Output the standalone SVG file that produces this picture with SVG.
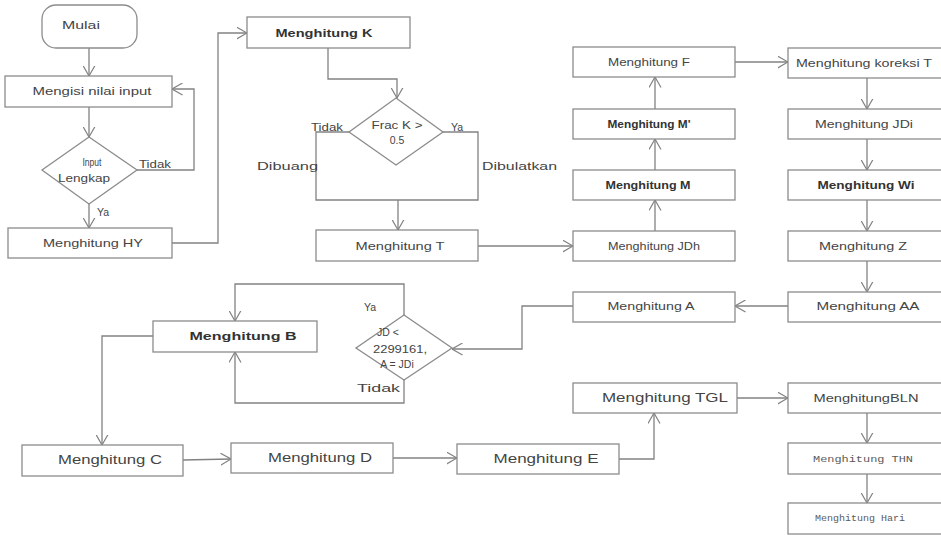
<svg xmlns="http://www.w3.org/2000/svg" width="941" height="535" viewBox="0 0 941 535">
  <style>
    .box { fill: #fff; stroke: #8c8c8c; stroke-width: 1.3; }
    .line { fill: none; stroke: #828282; stroke-width: 1.3; }
    .arrow { marker-end: url(#open); }
    text { font-family: "Liberation Sans", Arial, sans-serif; fill: #444; font-size: 10.5px; }
    .c { text-anchor: middle; }
    .b { font-weight: bold; fill: #333; }
    .big { font-size: 12.5px; }
    .mono { font-family: "Liberation Mono", "DejaVu Sans Mono", monospace; font-size: 9.5px; fill: #5a5a5a; }
  </style>
  <defs>
    <!-- open V arrowhead used by every connector -->
    <marker id="open" viewBox="0 0 11 13" refX="10.5" refY="6.5" markerWidth="11" markerHeight="13" markerUnits="userSpaceOnUse" orient="auto">
      <path d="M0,0.5 L10.5,6.5 L0,12.5" fill="none" stroke="#828282" stroke-width="1.2"/>
    </marker>
  </defs>
  <rect width="941" height="535" fill="#fff"/>

  <!-- connectors -->
  <g id="connectors">
    <polyline class="line arrow" points="89,48 89,76"/>
    <polyline class="line arrow" points="89,107 89,137"/>
    <polyline class="line arrow" points="137,170 194,170 194,89 172,89"/>
    <polyline class="line arrow" points="89,204 89,228"/>
    <polyline class="line arrow" points="172,243 218,243 218,33 247,33"/>
    <polyline class="line arrow" points="328,48 328,79 397,79 397,98"/>
    <polyline class="line" points="349,132 316,132 316,200 478,200 478,132 443,132"/>
    <polyline class="line arrow" points="398,200 398,230"/>
    <polyline class="line arrow" points="478,246 573,246"/>
    <polyline class="line arrow" points="655,231 655,200"/>
    <polyline class="line arrow" points="655,170 655,139"/>
    <polyline class="line arrow" points="655,109 655,77"/>
    <polyline class="line arrow" points="735,62 788,62"/>
    <polyline class="line arrow" points="867,78 867,109"/>
    <polyline class="line arrow" points="867,139 867,170"/>
    <polyline class="line arrow" points="867,200 867,231"/>
    <polyline class="line arrow" points="867,261 867,292"/>
    <polyline class="line arrow" points="788,306 735,306"/>
    <polyline class="line arrow" points="573,306 522,306 522,349 452,349"/>
    <polyline class="line arrow" points="404,315 404,284 235,284 235,321"/>
    <polyline class="line arrow" points="404,380 404,403 235,403 235,352"/>
    <polyline class="line arrow" points="153,336 102,336 102,445"/>
    <polyline class="line arrow" points="183,460 231,459"/>
    <polyline class="line arrow" points="393,458 457,458"/>
    <polyline class="line arrow" points="619,459 654,459 654,413"/>
    <polyline class="line arrow" points="737,398 788,398"/>
    <polyline class="line arrow" points="867,413 867,443"/>
    <polyline class="line arrow" points="867,474 867,503"/>
  </g>

  <!-- branch labels -->
  <g id="labels">
    <text x="139" y="168" textLength="32" lengthAdjust="spacingAndGlyphs">Tidak</text>
    <text x="97" y="216" font-size="12">Ya</text>
    <text x="311" y="131" textLength="32" lengthAdjust="spacingAndGlyphs">Tidak</text>
    <text x="451" y="131" font-size="12">Ya</text>
    <text x="257" y="170" font-size="12" textLength="61" lengthAdjust="spacingAndGlyphs">Dibuang</text>
    <text x="482" y="170" font-size="12" textLength="75" lengthAdjust="spacingAndGlyphs">Dibulatkan</text>
    <text x="364" y="311" font-size="12">Ya</text>
    <text x="357" y="392" font-size="12" textLength="43" lengthAdjust="spacingAndGlyphs">Tidak</text>
  </g>

  <!-- nodes -->
  <g id="mulai">
    <rect class="box" x="42" y="5" width="95" height="43" rx="14"/>
    <text x="81" y="29" class="c" font-size="12" textLength="38" lengthAdjust="spacingAndGlyphs">Mulai</text>
  </g>
  <g id="mengisi-input">
    <rect class="box" x="5" y="76" width="167" height="31"/>
    <text x="92" y="95" class="c" textLength="119" lengthAdjust="spacingAndGlyphs">Mengisi nilai input</text>
  </g>
  <g id="input-lengkap">
    <polygon class="box" points="89,137 137,170 89,204 42,170"/>
    <text x="92" y="166" class="c" font-size="10" textLength="19" lengthAdjust="spacingAndGlyphs">Input</text>
    <text x="84" y="182" class="c" textLength="52" lengthAdjust="spacingAndGlyphs">Lengkap</text>
  </g>
  <g id="hitung-hy">
    <rect class="box" x="8" y="228" width="164" height="30"/>
    <text x="93" y="247" class="c" textLength="100" lengthAdjust="spacingAndGlyphs">Menghitung HY</text>
  </g>
  <g id="hitung-k">
    <rect class="box" x="247" y="17" width="163" height="31"/>
    <text x="324" y="37" class="c b" font-size="11.5" textLength="97" lengthAdjust="spacingAndGlyphs">Menghitung  K</text>
  </g>
  <g id="frac-k">
    <polygon class="box" points="396,98 443,132 396,165 349,132"/>
    <text x="397" y="129" class="c" textLength="51" lengthAdjust="spacingAndGlyphs">Frac K &gt;</text>
    <text x="397" y="144" class="c">0.5</text>
  </g>
  <g id="hitung-t">
    <rect class="box" x="316" y="230" width="162" height="31"/>
    <text x="400" y="250" class="c" textLength="89" lengthAdjust="spacingAndGlyphs">Menghitung T</text>
  </g>
  <g id="hitung-f">
    <rect class="box" x="573" y="47" width="162" height="30"/>
    <text x="649" y="66" class="c" textLength="82" lengthAdjust="spacingAndGlyphs">Menghitung F</text>
  </g>
  <g id="hitung-m-aksen">
    <rect class="box" x="573" y="109" width="162" height="30"/>
    <text x="649" y="128" class="c b" textLength="83" lengthAdjust="spacingAndGlyphs">Menghitung  M'</text>
  </g>
  <g id="hitung-m">
    <rect class="box" x="573" y="170" width="162" height="30"/>
    <text x="648" y="189" class="c b" textLength="85" lengthAdjust="spacingAndGlyphs">Menghitung M</text>
  </g>
  <g id="hitung-jdh">
    <rect class="box" x="573" y="231" width="162" height="30"/>
    <text x="654" y="250" class="c" textLength="92" lengthAdjust="spacingAndGlyphs">Menghitung JDh</text>
  </g>
  <g id="hitung-a">
    <rect class="box" x="573" y="292" width="162" height="30"/>
    <text x="651" y="310" class="c" textLength="87" lengthAdjust="spacingAndGlyphs">Menghitung A</text>
  </g>
  <g id="hitung-koreksi-t">
    <rect class="box" x="788" y="48" width="160" height="30"/>
    <text x="864" y="67" class="c" textLength="136" lengthAdjust="spacingAndGlyphs">Menghitung koreksi T</text>
  </g>
  <g id="hitung-jdi">
    <rect class="box" x="788" y="109" width="160" height="30"/>
    <text x="864" y="128" class="c" textLength="98" lengthAdjust="spacingAndGlyphs">Menghitung JDi</text>
  </g>
  <g id="hitung-wi">
    <rect class="box" x="788" y="170" width="160" height="30"/>
    <text x="866" y="189" class="c b" textLength="97" lengthAdjust="spacingAndGlyphs">Menghitung Wi</text>
  </g>
  <g id="hitung-z">
    <rect class="box" x="788" y="231" width="160" height="30"/>
    <text x="863" y="250" class="c" textLength="88" lengthAdjust="spacingAndGlyphs">Menghitung Z</text>
  </g>
  <g id="hitung-aa">
    <rect class="box" x="788" y="292" width="160" height="30"/>
    <text x="868" y="310" class="c" textLength="103" lengthAdjust="spacingAndGlyphs">Menghitung AA</text>
  </g>
  <g id="jd-check">
    <polygon class="box" points="404,315 452,348 404,380 356,348"/>
    <text x="388" y="336" class="c" font-size="10">JD &lt;</text>
    <text x="400" y="353" class="c" font-size="10.5" textLength="54" lengthAdjust="spacingAndGlyphs">2299161,</text>
    <text x="397" y="368" class="c" font-size="10">A = JDi</text>
  </g>
  <g id="hitung-b">
    <rect class="box" x="153" y="321" width="164" height="31"/>
    <text x="243" y="340" class="c b" font-size="11" textLength="107" lengthAdjust="spacingAndGlyphs">Menghitung B</text>
  </g>
  <g id="hitung-c">
    <rect class="box" x="22" y="445" width="161" height="31"/>
    <text x="110" y="464" class="c big" textLength="104" lengthAdjust="spacingAndGlyphs">Menghitung C</text>
  </g>
  <g id="hitung-d">
    <rect class="box" x="231" y="443" width="162" height="30"/>
    <text x="320" y="462" class="c big" textLength="104" lengthAdjust="spacingAndGlyphs">Menghitung D</text>
  </g>
  <g id="hitung-e">
    <rect class="box" x="457" y="444" width="162" height="30"/>
    <text x="546" y="463" class="c big" textLength="105" lengthAdjust="spacingAndGlyphs">Menghitung E</text>
  </g>
  <g id="hitung-tgl">
    <rect class="box" x="573" y="383" width="164" height="30"/>
    <text x="665" y="402" class="c big" textLength="126" lengthAdjust="spacingAndGlyphs">Menghitung TGL</text>
  </g>
  <g id="hitung-bln">
    <rect class="box" x="788" y="383" width="160" height="30"/>
    <text x="866" y="402" class="c" font-size="11" textLength="105" lengthAdjust="spacingAndGlyphs">MenghitungBLN</text>
  </g>
  <g id="hitung-thn">
    <rect class="box" x="788" y="443" width="160" height="31"/>
    <text x="863" y="462" class="c mono" textLength="100" lengthAdjust="spacingAndGlyphs">Menghitung  THN</text>
  </g>
  <g id="hitung-hari">
    <rect class="box" x="788" y="503" width="160" height="31"/>
    <text x="860" y="521" class="c mono" textLength="90" lengthAdjust="spacingAndGlyphs">Menghitung  Hari</text>
  </g>
</svg>
